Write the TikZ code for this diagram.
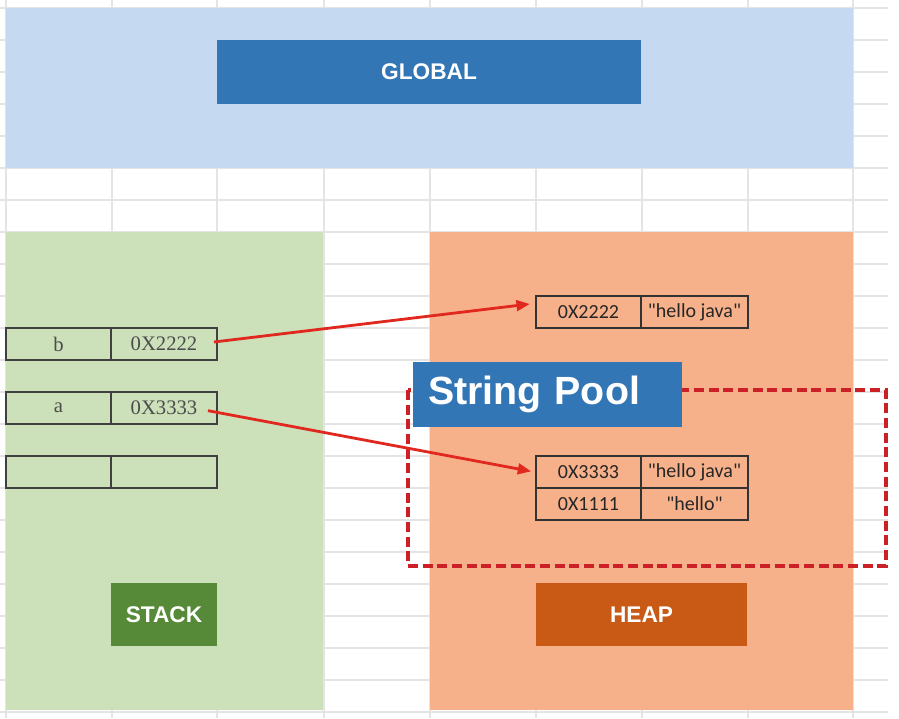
\documentclass[tikz,border=0pt]{standalone}
\usepackage{fontspec}
\setmainfont{Liberation Sans}
\newfontfamily\cellserif{Liberation Serif}
\newfontfamily\cellsans{Carlito}
\usetikzlibrary{arrows.meta}
\definecolor{gridgray}{HTML}{E4E4E4}
\definecolor{globallight}{HTML}{C5D9F1}
\definecolor{globaldark}{HTML}{3276B6}
\definecolor{stacklight}{HTML}{CCE1B9}
\definecolor{stackdark}{HTML}{568A38}
\definecolor{heaplight}{HTML}{F7B18A}
\definecolor{heapdark}{HTML}{C85A16}
\definecolor{arrowred}{HTML}{E0281E}
\definecolor{poolred}{HTML}{CC2027}
\tikzset{
  gridline/.style={draw=gridgray, line width=1.1pt},
  stackcell/.style={draw=black!75, line width=1.4pt, inner sep=0pt, minimum height=24pt,
    font=\cellserif\fontsize{15.5pt}{18pt}\selectfont, text=black!70},
  heapcell/.style={draw=black!80, line width=1.3pt, inner sep=0pt, minimum height=24pt,
    font=\cellsans\fontsize{15pt}{18pt}\selectfont, text=black!85},
  labelbox/.style={inner sep=0pt, text=white, font=\bfseries\fontsize{17pt}{20pt}\selectfont},
  redarrow/.style={draw=arrowred, line width=2.1pt, -{Triangle[length=10pt,width=8pt]}},
}
\begin{document}
\begin{tikzpicture}[x=0.75pt,y=-0.75pt]
\useasboundingbox (0,0) rectangle (899,718);
\fill[white] (0,0) rectangle (899,718);
% spreadsheet grid
\foreach \y in {8,40,...,712} \draw[gridline] (0,\y) -- (888,\y);
\foreach \x in {6,112,217,324,430,536,642,748,853} \draw[gridline] (\x,0) -- (\x,718);
% regions
\fill[globallight] (6,8) rectangle (853,168);
\fill[stacklight] (6,232) rectangle (323,710);
\fill[heaplight] (430,232) rectangle (853,710);
% labels
\node[labelbox, fill=globaldark, minimum width=318pt, minimum height=48pt] (global) at (429,72) {GLOBAL};
\node[labelbox, fill=stackdark, minimum width=79.5pt, minimum height=47.25pt] (stack) at (164,614.5) {STACK};
\node[labelbox, fill=heapdark, minimum width=158.25pt, minimum height=47.25pt] (heap) at (641.5,614.5) {HEAP};
% stack cells
\node[stackcell, minimum width=78.75pt] (bname) at (58.5,344) {b};
\node[stackcell, minimum width=79.5pt] (bval) at (164,344) {0X2222};
\node[stackcell, minimum width=78.75pt] (aname) at (58.5,408) {a};
\node[stackcell, minimum width=79.5pt] (aval) at (164,408) {0X3333};
\node[stackcell, minimum width=78.75pt] (ename) at (58.5,472) {};
\node[stackcell, minimum width=79.5pt] (eval) at (164,472) {};
% string pool
\draw[draw=poolred, line width=2.3pt, dash pattern=on 7.5pt off 3.5pt] (408,390) rectangle (886,566);
\node[fill=globaldark, text=white, font=\bfseries\fontsize{29.5pt}{34pt}\selectfont,
  text width=179.25pt, inner xsep=11.25pt, inner ysep=0pt, align=left,
  minimum height=48.75pt] (pool) at (547.5,394.5) {String Pool};
% heap cells
\node[heapcell, minimum width=78.75pt] (h1a) at (588.5,312) {0X2222};
\node[heapcell, minimum width=80.25pt] (h1v) at (694.5,312) {"hello java"};
\node[heapcell, minimum width=78.75pt] (h2a) at (588.5,472) {0X3333};
\node[heapcell, minimum width=80.25pt] (h2v) at (694.5,472) {"hello java"};
\node[heapcell, minimum width=78.75pt] (h3a) at (588.5,504) {0X1111};
\node[heapcell, minimum width=80.25pt] (h3v) at (694.5,504) {"hello"};
% references
\draw[redarrow] ([xshift=-3pt,yshift=1.5pt]bval.east) -- ([xshift=-4pt,yshift=6pt]h1a.west);
\draw[redarrow] ([xshift=-7.5pt,yshift=-2pt]aval.east) -- ([xshift=-3pt,yshift=0.5pt]h2a.west);
\end{tikzpicture}
\end{document}
